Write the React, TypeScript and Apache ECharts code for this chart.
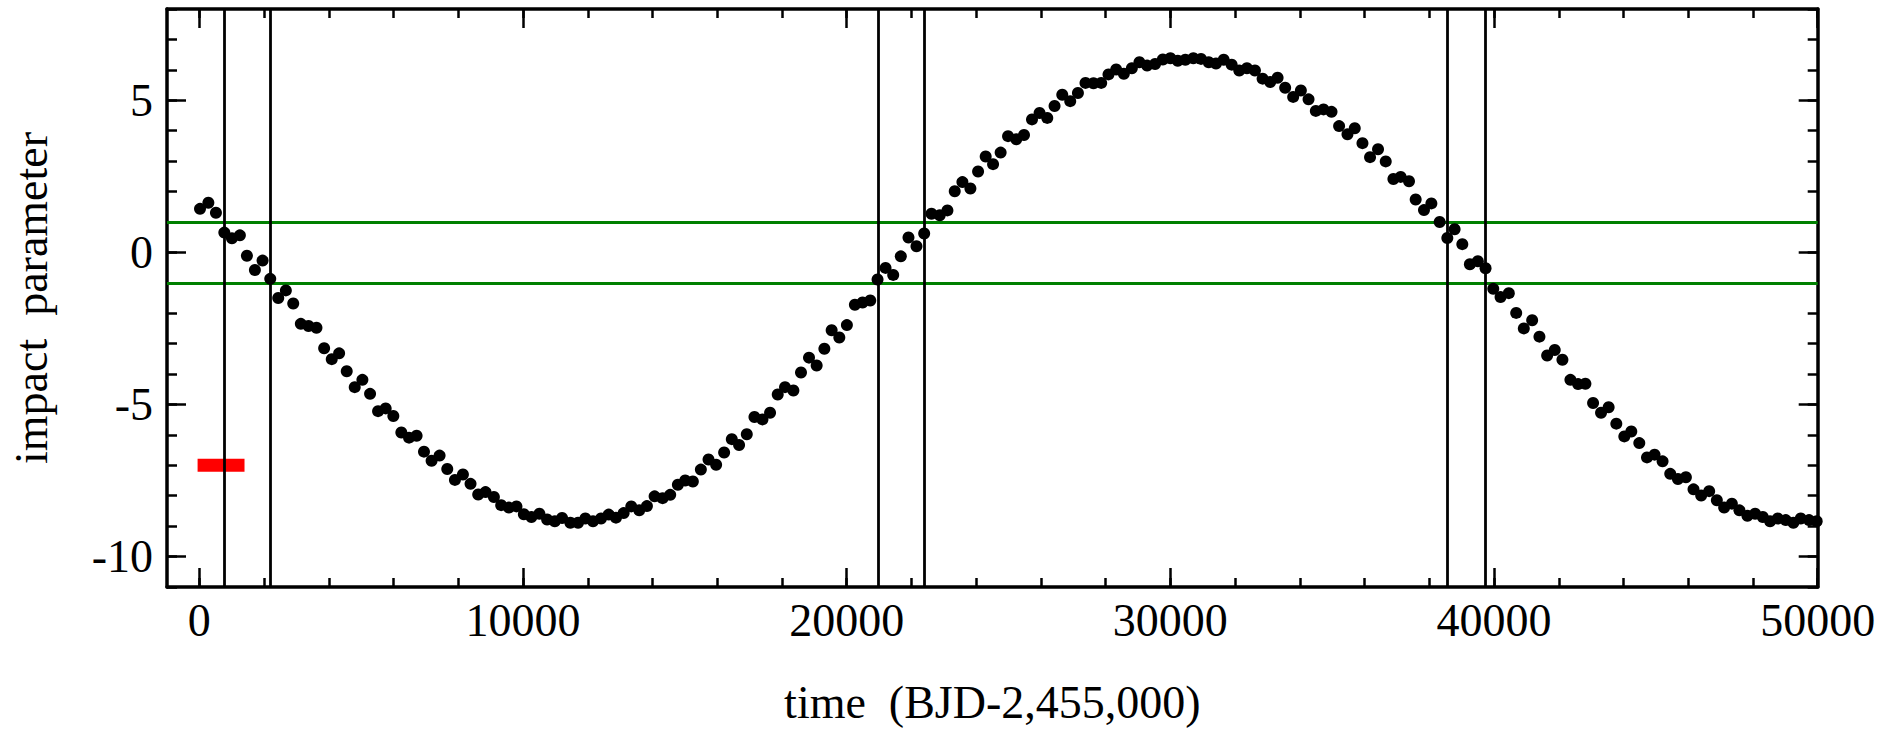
import React, { useEffect, useRef } from "react";
import * as echarts from "echarts";

// Transit times (BJD-2,455,000) and impact parameters
const times: number[] = [
  20, 278, 512, 771, 1006, 1252, 1469, 1716, 1953, 2190,
  2437, 2672, 2900, 3135, 3372, 3618, 3855, 4090, 4318, 4553,
  4800, 5037, 5274, 5521, 5756, 5993, 6240, 6478, 6712, 6940,
  7175, 7422, 7659, 7896, 8143, 8378, 8615, 8841, 9100, 9325,
  9562, 9797, 10025, 10259, 10506, 10744, 10981, 11206, 11462, 11700,
  11925, 12162, 12410, 12647, 12872, 13109, 13344, 13591, 13828, 14065,
  14312, 14547, 14784, 15010, 15247, 15494, 15731, 15966, 16213, 16450,
  16675, 16913, 17150, 17397, 17632, 17869, 18094, 18353, 18588, 18835,
  19072, 19310, 19535, 19772, 20006, 20253, 20490, 20728, 20953, 21200,
  21437, 21672, 21909, 22156, 22394, 22619, 22875, 23112, 23338, 23575,
  23822, 24059, 24294, 24522, 24756, 24985, 25240, 25478, 25725, 25959,
  26197, 26422, 26660, 26906, 27144, 27378, 27625, 27863, 28088, 28326,
  28563, 28810, 29044, 29282, 29528, 29766, 30000, 30228, 30463, 30710,
  30947, 31185, 31410, 31647, 31894, 32129, 32366, 32613, 32850, 33085,
  33313, 33547, 33794, 34032, 34269, 34494, 34732, 34979, 35213, 35472,
  35697, 35935, 36169, 36416, 36654, 36891, 37116, 37373, 37579, 37836,
  38064, 38320, 38557, 38782, 39020, 39254, 39500, 39738, 39976, 40201,
  40457, 40685, 40920, 41178, 41403, 41641, 41876, 42113, 42360, 42597,
  42823, 43060, 43306, 43541, 43778, 44025, 44241, 44488, 44726, 44960,
  45207, 45444, 45682, 45928, 46163, 46400, 46647, 46884, 47110, 47348,
  47582, 47829, 48067, 48304, 48529, 48767, 49014, 49248, 49476, 49733,
  49969,
];

const impact: number[] = [
  1.43, 1.63, 1.30, 0.65, 0.46, 0.56, -0.11, -0.58, -0.27, -0.87,
  -1.50, -1.25, -1.68, -2.35, -2.42, -2.48, -3.15, -3.51, -3.32, -3.91,
  -4.43, -4.19, -4.65, -5.22, -5.13, -5.38, -5.92, -6.09, -6.03, -6.55,
  -6.85, -6.68, -7.12, -7.48, -7.30, -7.61, -7.96, -7.88, -8.04, -8.31,
  -8.39, -8.35, -8.61, -8.70, -8.59, -8.78, -8.84, -8.73, -8.89, -8.89,
  -8.75, -8.84, -8.75, -8.62, -8.72, -8.57, -8.35, -8.48, -8.34, -8.02,
  -8.08, -7.97, -7.64, -7.50, -7.53, -7.14, -6.81, -6.98, -6.58, -6.14,
  -6.33, -5.98, -5.41, -5.49, -5.27, -4.67, -4.43, -4.54, -3.95, -3.46,
  -3.72, -3.17, -2.56, -2.80, -2.39, -1.72, -1.65, -1.58, -0.89, -0.51,
  -0.74, -0.13, 0.49, 0.20, 0.62, 1.27, 1.22, 1.38, 2.01, 2.31,
  2.10, 2.66, 3.15, 2.90, 3.28, 3.82, 3.72, 3.86, 4.37, 4.58,
  4.42, 4.81, 5.18, 4.97, 5.24, 5.57, 5.56, 5.57, 5.85, 6.01,
  5.87, 6.05, 6.25, 6.14, 6.19, 6.34, 6.38, 6.30, 6.33, 6.38,
  6.36, 6.25, 6.21, 6.33, 6.17, 5.98, 6.05, 5.98, 5.71, 5.60,
  5.74, 5.41, 5.11, 5.32, 5.03, 4.65, 4.70, 4.62, 4.15, 3.88,
  4.08, 3.59, 3.13, 3.39, 2.99, 2.41, 2.48, 2.34, 1.74, 1.39,
  1.61, 1.00, 0.47, 0.76, 0.27, -0.39, -0.29, -0.52, -1.20, -1.47,
  -1.34, -1.99, -2.50, -2.23, -2.77, -3.39, -3.21, -3.53, -4.19, -4.33,
  -4.32, -4.95, -5.27, -5.09, -5.63, -6.05, -5.89, -6.27, -6.74, -6.65,
  -6.87, -7.28, -7.45, -7.39, -7.79, -7.99, -7.85, -8.15, -8.39, -8.26,
  -8.48, -8.66, -8.59, -8.70, -8.84, -8.75, -8.80, -8.89, -8.75, -8.80,
  -8.84,
];

// Vertical markers (start/end of transit windows)
const windowEdges: number[] = [760, 2190, 20960, 22390, 38560, 39735];
// Horizontal limits |b| = 1
const impactLimits: number[] = [1, -1];
// Kepler observation span (red bar)
const keplerSpan: number[] = [-55, 1395];
const keplerLevel = -7;

// Axis ticks
const xMajorTicks: number[] = [0, 10000, 20000, 30000, 40000, 50000];
const xMinorTicks: number[] = [
  0, 2000, 4000, 6000, 8000, 10000, 12000, 14000, 16000, 18000, 20000, 22000,
  24000, 26000, 28000, 30000, 32000, 34000, 36000, 38000, 40000, 42000, 44000,
  46000, 48000, 50000,
];
const yMajorTicks: number[] = [-10, -5, 0, 5];
const yMinorTicks: number[] = [
  -11, -10, -9, -8, -7, -6, -5, -4, -3, -2, -1, 0, 1, 2, 3, 4, 5, 6, 7, 8,
];

const xTitle = "time  (BJD-2,455,000)";
const yTitle = "impact  parameter";

const FONT = "'Liberation Serif', 'Times New Roman', Times, serif";
const X_MIN = -1000;
const X_MAX = 50000;
const Y_MIN = -11;
const Y_MAX = 8;

const plain = (v: number) => String(v);

function xAxisDef(
  position: string,
  ticks: number[],
  len: number,
  labels: boolean,
  line: boolean
): any {
  return {
    type: "value",
    position,
    min: X_MIN,
    max: X_MAX,
    axisLine: {
      show: line,
      onZero: false,
      lineStyle: { color: "#000", width: 3.5 },
    },
    axisTick: {
      show: true,
      inside: true,
      length: len,
      customValues: ticks,
      lineStyle: { color: "#000", width: 2.5 },
    },
    axisLabel: labels
      ? {
          show: true,
          customValues: xMajorTicks,
          formatter: plain,
          margin: 10,
          color: "#000",
          fontFamily: FONT,
          fontSize: 46,
        }
      : { show: false },
    splitLine: { show: false },
  };
}

function yAxisDef(
  position: string,
  ticks: number[],
  len: number,
  labels: boolean,
  line: boolean
): any {
  return {
    type: "value",
    position,
    min: Y_MIN,
    max: Y_MAX,
    axisLine: {
      show: line,
      onZero: false,
      lineStyle: { color: "#000", width: 3.5 },
    },
    axisTick: {
      show: true,
      inside: true,
      length: len,
      customValues: ticks,
      lineStyle: { color: "#000", width: 2.5 },
    },
    axisLabel: labels
      ? {
          show: true,
          customValues: yMajorTicks,
          formatter: plain,
          margin: 14,
          color: "#000",
          fontFamily: FONT,
          fontSize: 46,
        }
      : { show: false },
    splitLine: { show: false },
  };
}

export default function App() {
  const ref = useRef<HTMLDivElement>(null);

  useEffect(() => {
    if (!ref.current) return;
    const chart = echarts.init(ref.current, undefined, { renderer: "svg" });

    const xMain = xAxisDef("bottom", xMajorTicks, 19, true, true);
    xMain.name = xTitle;
    xMain.nameLocation = "middle";
    xMain.nameGap = 92;
    xMain.nameTextStyle = { color: "#000", fontFamily: FONT, fontSize: 46 };

    const yMain = yAxisDef("left", yMajorTicks, 19, true, true);
    yMain.name = yTitle;
    yMain.nameLocation = "middle";
    yMain.nameGap = 113;
    yMain.nameTextStyle = { color: "#000", fontFamily: FONT, fontSize: 46 };

    const option: any = {
      animation: false,
      backgroundColor: "#fff",
      grid: { left: 164, right: 67.3, top: 9, bottom: 140.3, containLabel: false },
      xAxis: [
        xMain,
        xAxisDef("bottom", xMinorTicks, 9, false, false),
        xAxisDef("top", xMajorTicks, 19, false, true),
        xAxisDef("top", xMinorTicks, 9, false, false),
      ],
      yAxis: [
        yMain,
        yAxisDef("left", yMinorTicks, 10, false, false),
        yAxisDef("right", yMajorTicks, 19, false, true),
        yAxisDef("right", yMinorTicks, 10, false, false),
      ],
      series: [
        {
          name: "Kepler",
          type: "line",
          xAxisIndex: 0,
          yAxisIndex: 0,
          data: [
            [keplerSpan[0], keplerLevel],
            [keplerSpan[1], keplerLevel],
          ],
          symbol: "none",
          lineStyle: { color: "#ff0000", width: 13, cap: "butt" },
          z: 3,
          silent: true,
          markLine: {
            silent: true,
            symbol: ["none", "none"],
            label: { show: false },
            emphasis: { disabled: true },
            data: [
              ...impactLimits.map((v) => ({
                yAxis: v,
                lineStyle: { color: "#008000", width: 3.2, type: "solid" },
              })),
              ...windowEdges.map((v) => ({
                xAxis: v,
                lineStyle: { color: "#000", width: 2.8, type: "solid" },
              })),
            ],
          },
        },
        {
          name: "impact parameter",
          type: "scatter",
          xAxisIndex: 0,
          yAxisIndex: 0,
          data: times.map((t, i) => [t, impact[i]]),
          symbol: "circle",
          symbolSize: 12,
          itemStyle: { color: "#000", opacity: 1 },
          z: 5,
        },
      ],
    };

    chart.setOption(option);
    return () => {
      chart.dispose();
    };
  }, []);

  return (
    <div
      ref={ref}
      style={{
        position: "fixed",
        left: 0,
        top: 0,
        width: 1885,
        height: 730,
        background: "#fff",
      }}
    />
  );
}
